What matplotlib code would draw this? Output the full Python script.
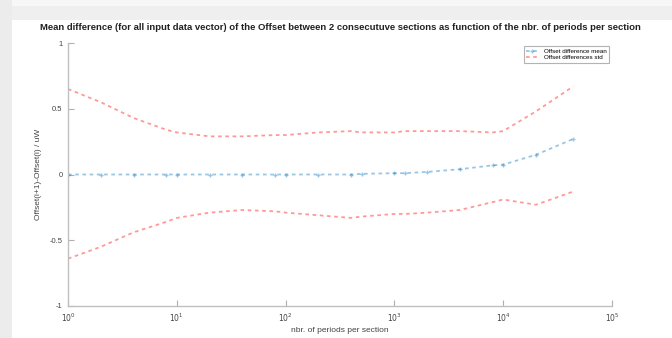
import matplotlib
matplotlib.use("Agg")
import matplotlib.pyplot as plt
from matplotlib.patches import Rectangle

plt.rcParams['font.family'] = ['Liberation Sans', 'DejaVu Sans']

# nbr. of periods per section
periods = [1, 2, 4, 8, 10, 20, 40, 80, 100, 200, 400, 500, 1000, 1250,
           2000, 4000, 8000, 10000, 20000, 44000]
# mean of the offset difference
mean_diff = [0, 0, 0, 0, 0, 0, 0, 0, 0, 0, 0, 0.005, 0.01, 0.01,
             0.02, 0.04, 0.07, 0.075, 0.15, 0.27]
# mean + std / mean - std
std_upper = [0.65, 0.55, 0.43, 0.34, 0.32, 0.29, 0.29, 0.30, 0.30, 0.32,
             0.33, 0.32, 0.32, 0.33, 0.33, 0.33, 0.32, 0.33, 0.48, 0.67]
std_lower = [-0.64, -0.55, -0.44, -0.36, -0.33, -0.29, -0.27, -0.28, -0.29, -0.31,
             -0.33, -0.32, -0.30, -0.30, -0.29, -0.27, -0.21, -0.19, -0.23, -0.13]

fig = plt.figure(figsize=(6.72, 3.38), dpi=100, facecolor='white')

# grey window frame (screenshot edges)
fig.patches.append(Rectangle((0, 1 - 20 / 338), 1, 20 / 338, transform=fig.transFigure,
                             facecolor='#efefef', edgecolor='none', zorder=-1))
fig.patches.append(Rectangle((0, 1 - 6 / 338), 1, 6 / 338, transform=fig.transFigure,
                             facecolor='#f7f7f7', edgecolor='none', zorder=-1))
fig.patches.append(Rectangle((0, 0), 12 / 672, 1, transform=fig.transFigure,
                             facecolor='#ececec', edgecolor='none', zorder=-1))

ax = fig.add_axes([68 / 672, 1 - 306 / 338, (612 - 68) / 672, (306 - 43) / 338])

blue = (0.0, 0.447, 0.741)
red = (1.0, 0.0, 0.0)
ax.plot(periods, mean_diff, linestyle=(0, (2, 2)), marker='+', markersize=3, color=blue,
        alpha=0.4, linewidth=1.3, label='Offset difference mean')
ax.plot(periods, std_upper, linestyle=(0, (2, 2)), color=red, alpha=0.4, linewidth=1.3,
        label='Offset differences std')
ax.plot(periods, std_lower, linestyle=(0, (2, 2)), color=red, alpha=0.4, linewidth=1.3)

ax.set_xscale('log')
ax.set_xlim(1, 1e5)
ax.set_ylim(-1, 1)
ax.set_yticks([-1, -0.5, 0, 0.5, 1])
ax.set_yticklabels(['-1', '-0.5', '0', '0.5', '1'])
ax.set_xticks([1, 10, 100, 1000, 1e4, 1e5])
ax.set_xticklabels(['$10^0$', '$10^1$', '$10^2$', '$10^3$', '$10^4$', '$10^5$'])
ax.minorticks_off()

for s in ['top', 'right']:
    ax.spines[s].set_visible(False)
for s in ['left', 'bottom']:
    ax.spines[s].set_color('#c0c0c0')
    ax.spines[s].set_linewidth(1.0)
ax.tick_params(direction='in', length=4, color='#b0b0b0', labelsize=5.5,
               labelcolor='#444444', pad=4)

ax.set_xlabel('nbr. of periods per section', fontsize=6, color='#444444', labelpad=2)
ax.set_ylabel('Offset(i+1)-Offset(i) / uW', fontsize=6, color='#444444', labelpad=5)
ax.set_title('Mean difference (for all input data vector) of the Offset between 2 '
             'consecutuve sections as function of the nbr. of periods per section',
             fontsize=6.8, fontweight='bold', color='#222222', pad=9)

leg = ax.legend(loc='upper right', bbox_to_anchor=(1.0, 1.0), fontsize=4.5,
                frameon=True, fancybox=False, handlelength=2.0, borderpad=0.4,
                labelspacing=0.1)
leg.get_frame().set_edgecolor('#a0a0a0')
leg.get_frame().set_linewidth(0.8)

fig.savefig('out.png', dpi=100)
